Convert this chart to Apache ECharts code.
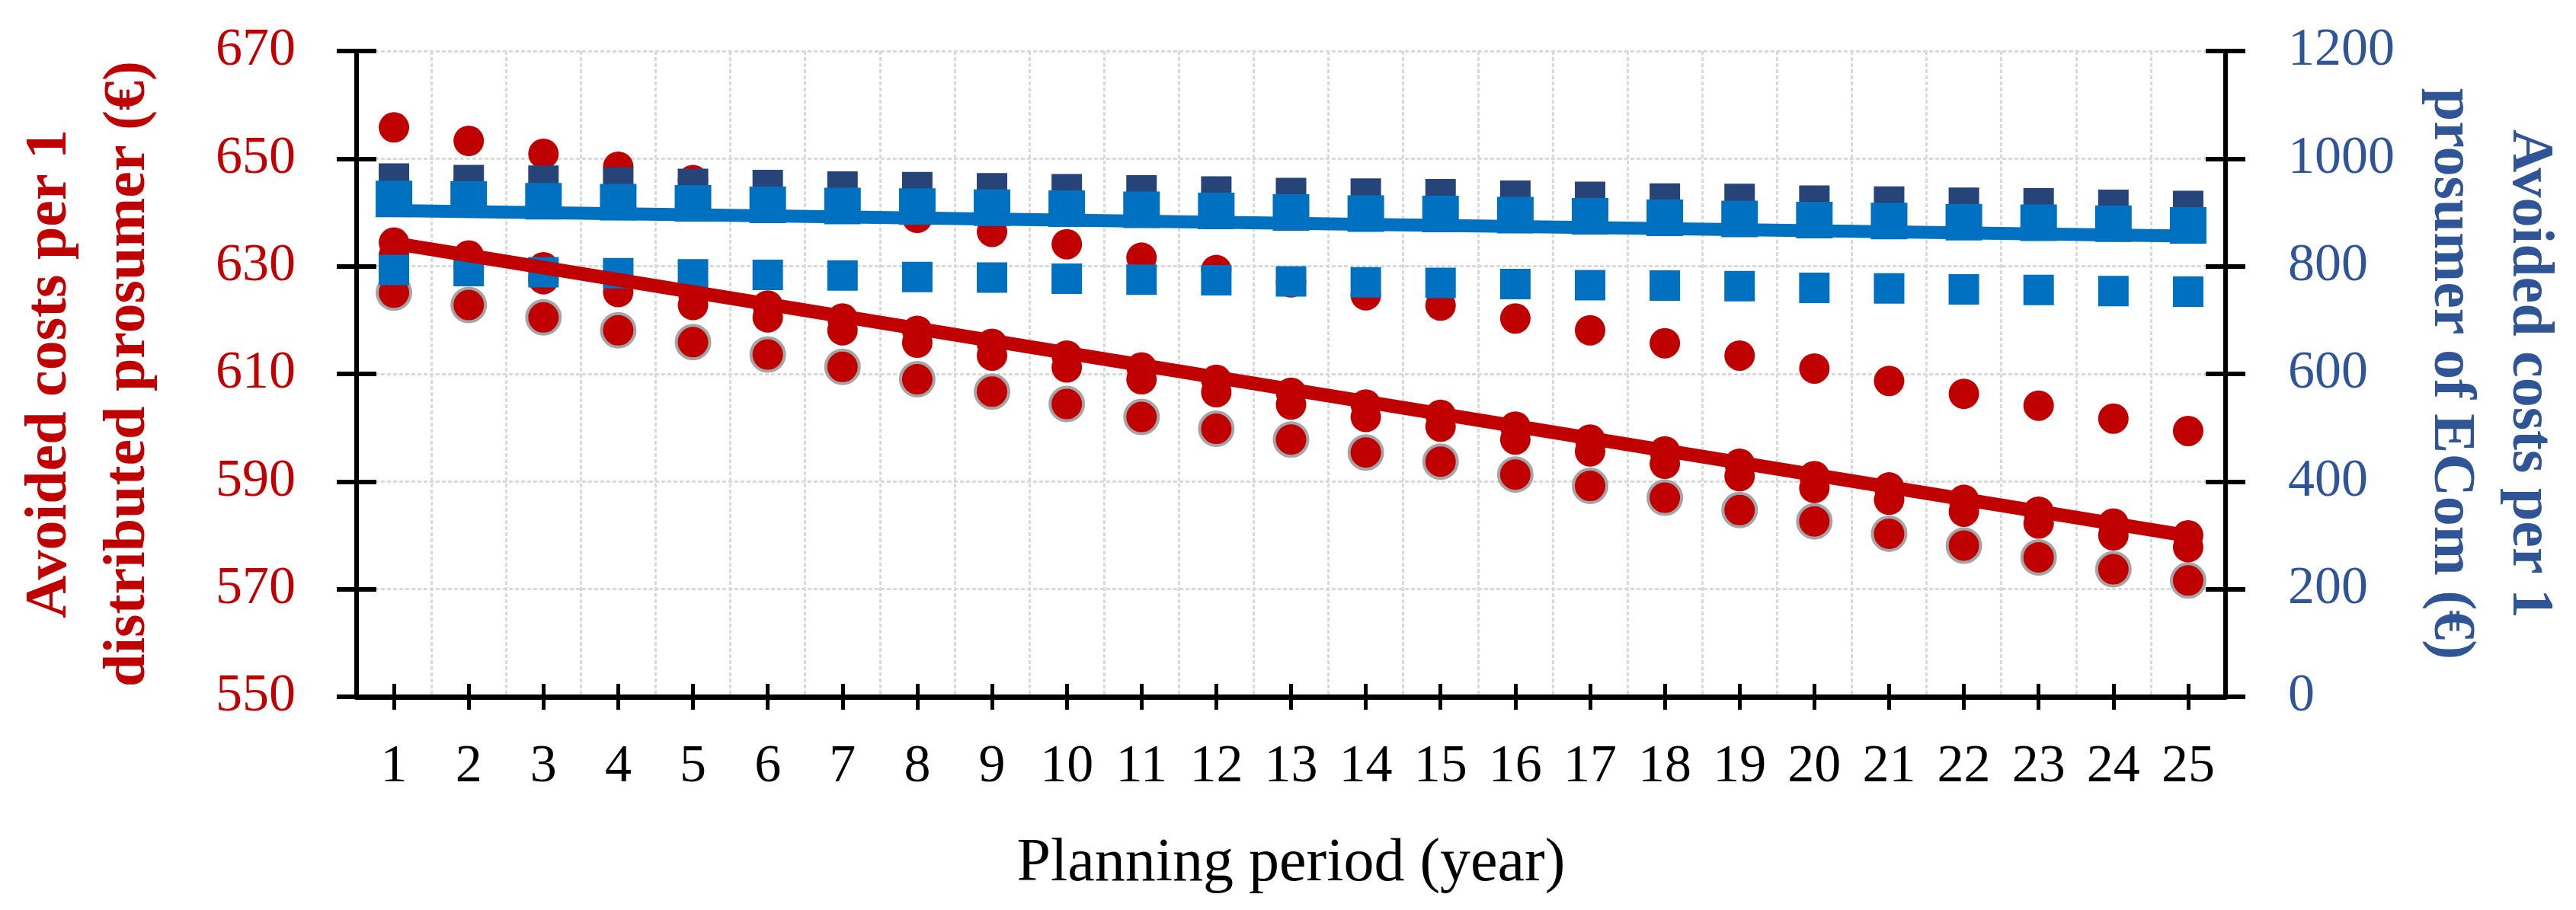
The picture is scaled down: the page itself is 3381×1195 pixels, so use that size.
<!DOCTYPE html>
<html>
<head>
<meta charset="utf-8">
<script src="https://cdn.jsdelivr.net/npm/echarts@6/dist/echarts.min.js"></script>
<style>
  html, body { margin: 0; padding: 0; background: #fff; }
  #chart { width: 3381px; height: 1195px; }
</style>
</head>
<body>
<div id="chart"></div>
<script>
// ---- data ----
const years = ['1','2','3','4','5','6','7','8','9','10','11','12','13','14','15','16','17','18','19','20','21','22','23','24','25'];

// left axis (distributed prosumer, €)
const redUpper = [655.8, 653.3, 650.9, 648.5, 646.0, 643.6, 641.3, 639.0, 636.4, 634.1, 631.6, 629.3, 627.0, 624.6, 622.7, 620.3, 618.1, 615.7, 613.4, 611.0, 608.7, 606.3, 604.1, 601.7, 599.4];
const redMid   = [634.4, 632.0, 629.8, 627.5, 625.1, 622.7, 620.3, 618.0, 615.6, 613.4, 611.2, 608.9, 606.5, 604.3, 602.4, 600.2, 597.8, 595.6, 593.3, 591.0, 588.9, 586.6, 584.4, 582.2, 580.0];
const redMid2  = [632.1, 629.9, 627.6, 625.2, 622.8, 620.5, 618.1, 615.8, 613.4, 611.2, 609.0, 606.6, 604.3, 602.0, 600.2, 597.8, 595.6, 593.3, 591.0, 588.8, 586.6, 584.4, 582.2, 580.0, 577.8];
const redLower = [625.1, 622.8, 620.5, 618.1, 615.9, 613.6, 611.3, 609.0, 606.7, 604.4, 602.0, 599.8, 597.8, 595.4, 593.7, 591.3, 589.2, 587.0, 584.7, 582.6, 580.3, 578.1, 575.9, 573.7, 571.6];
const redTrendEnds = [634.3, 579.9];   // trend line at year 1 and year 25

// right axis (prosumer of ECom, €)
const navyTop   = [963, 960, 959, 956, 953, 951, 948, 947, 945, 943, 941, 939, 936, 935, 934, 931, 929, 926, 925, 922, 920, 918, 917, 914, 912];
const blueUpper = [925, 924, 921, 919, 917, 914, 912, 911, 909, 907, 905, 903, 900, 898, 897, 895, 893, 890, 888, 886, 884, 882, 881, 879, 876];
const blueLower = [793, 791, 789, 787, 785, 784, 783, 780, 779, 777, 775, 774, 772, 770, 769, 767, 765, 764, 763, 760, 759, 757, 756, 754, 753];
const blueTrendEnds = [903.5, 856];   // trend line at year 1 and year 25

const leftTicks  = { min: 550, max: 670, interval: 20 };
const rightTicks = { min: 0, max: 1200, interval: 200 };

// ---- styles ----
const FONT = 'Liberation Serif';
const RED = '#C00000';
const NAVY = '#264478';
const BLUE = '#0070C0';
const AXIS_BLUE = '#2F5597';
const GRID = '#D9D9D9';

const chart = echarts.init(document.getElementById('chart'), null, { renderer: 'canvas' });

const yBase = (t, pos) => ({
  type: 'value', position: pos, min: t.min, max: t.max, interval: t.interval
});

const option = {
  animation: false,
  backgroundColor: '#fff',
  grid: { left: 468, right: 460, top: 67, bottom: 280, containLabel: false },
  xAxis: [
    {
      type: 'category', data: years, position: 'bottom',
      axisLine: { show: true, lineStyle: { color: '#000', width: 7 } },
      axisTick: { show: true, alignWithLabel: true, inside: false, length: 17, lineStyle: { color: '#000', width: 5 } },
      axisLabel: { color: '#000', fontFamily: FONT, fontSize: 70, margin: 58 },
      splitLine: { show: true, lineStyle: { color: GRID, width: 3, type: [5, 3] } },
      name: 'Planning period (year)', nameLocation: 'middle', nameGap: 180,
      nameTextStyle: { color: '#000', fontFamily: FONT, fontSize: 80 }
    },
    {
      type: 'category', data: years, position: 'bottom',
      axisLine: { show: false },
      axisTick: { show: true, alignWithLabel: true, inside: true, length: 17, lineStyle: { color: '#000', width: 5 } },
      axisLabel: { show: false }, splitLine: { show: false }
    }
  ],
  yAxis: [
    Object.assign(yBase(leftTicks, 'left'), {
      axisLine: { show: true, lineStyle: { color: '#000', width: 6 } },
      axisTick: { show: true, inside: false, length: 26, lineStyle: { color: '#000', width: 6 } },
      axisLabel: { color: RED, fontFamily: FONT, fontSize: 70, margin: 80, formatter: v => String(v) },
      splitLine: { show: true, lineStyle: { color: GRID, width: 3, type: [5, 3] } },
      name: 'Avoided costs per 1\ndistributed prosumer (€)', nameLocation: 'middle', nameGap: 248, nameRotate: 90,
      nameTextStyle: { color: RED, fontFamily: FONT, fontSize: 78, fontWeight: 'bold', lineHeight: 103 }
    }),
    Object.assign(yBase(rightTicks, 'right'), {
      axisLine: { show: true, lineStyle: { color: '#000', width: 6 } },
      axisTick: { show: true, inside: false, length: 26, lineStyle: { color: '#000', width: 6 } },
      axisLabel: { color: AXIS_BLUE, fontFamily: FONT, fontSize: 70, margin: 82, formatter: v => String(v) },
      splitLine: { show: false },
      name: 'Avoided costs per 1\nprosumer of ECom (€)', nameLocation: 'middle', nameGap: 244, nameRotate: -90,
      nameTextStyle: { color: AXIS_BLUE, fontFamily: FONT, fontSize: 78, fontWeight: 'bold', lineHeight: 103 }
    }),
    Object.assign(yBase(leftTicks, 'left'), {
      axisLine: { show: false },
      axisTick: { show: true, inside: true, length: 26, lineStyle: { color: '#000', width: 6 } },
      axisLabel: { show: false }, splitLine: { show: false }
    }),
    Object.assign(yBase(rightTicks, 'right'), {
      axisLine: { show: false },
      axisTick: { show: true, inside: true, length: 26, lineStyle: { color: '#000', width: 6 } },
      axisLabel: { show: false }, splitLine: { show: false }
    })
  ],
  series: [
    { name: 'redUpper', type: 'scatter', xAxisIndex: 0, yAxisIndex: 0, data: redUpper,
      symbol: 'circle', symbolSize: 40, itemStyle: { color: RED, opacity: 1 } },
    { name: 'redLower', type: 'scatter', xAxisIndex: 0, yAxisIndex: 0, data: redLower,
      symbol: 'circle', symbolSize: 44, itemStyle: { color: RED, opacity: 1, borderColor: '#A5A5A5', borderWidth: 4 } },
    { name: 'redMid2', type: 'scatter', xAxisIndex: 0, yAxisIndex: 0, data: redMid2,
      symbol: 'circle', symbolSize: 40, itemStyle: { color: RED, opacity: 1 } },
    { name: 'redMid', type: 'scatter', xAxisIndex: 0, yAxisIndex: 0, data: redMid,
      symbol: 'circle', symbolSize: 40, itemStyle: { color: RED, opacity: 1 } },
    { name: 'redTrend', type: 'line', xAxisIndex: 0, yAxisIndex: 0,
      data: [[years[0], redTrendEnds[0]], [years[years.length - 1], redTrendEnds[1]]],
      showSymbol: false, lineStyle: { color: RED, width: 18 } },
    { name: 'navyTop', type: 'scatter', xAxisIndex: 0, yAxisIndex: 1, data: navyTop,
      symbol: 'rect', symbolSize: 40, itemStyle: { color: NAVY, opacity: 1 } },
    { name: 'blueUpper', type: 'scatter', xAxisIndex: 0, yAxisIndex: 1, data: blueUpper,
      symbol: 'rect', symbolSize: 48, itemStyle: { color: BLUE, opacity: 1 } },
    { name: 'blueTrend', type: 'line', xAxisIndex: 0, yAxisIndex: 1,
      data: [[years[0], blueTrendEnds[0]], [years[years.length - 1], blueTrendEnds[1]]],
      showSymbol: false, lineStyle: { color: BLUE, width: 17 } },
    { name: 'blueLower', type: 'scatter', xAxisIndex: 0, yAxisIndex: 1, data: blueLower,
      symbol: 'rect', symbolSize: 40, itemStyle: { color: BLUE, opacity: 1 } }
  ]
};

chart.setOption(option);
</script>
</body>
</html>
